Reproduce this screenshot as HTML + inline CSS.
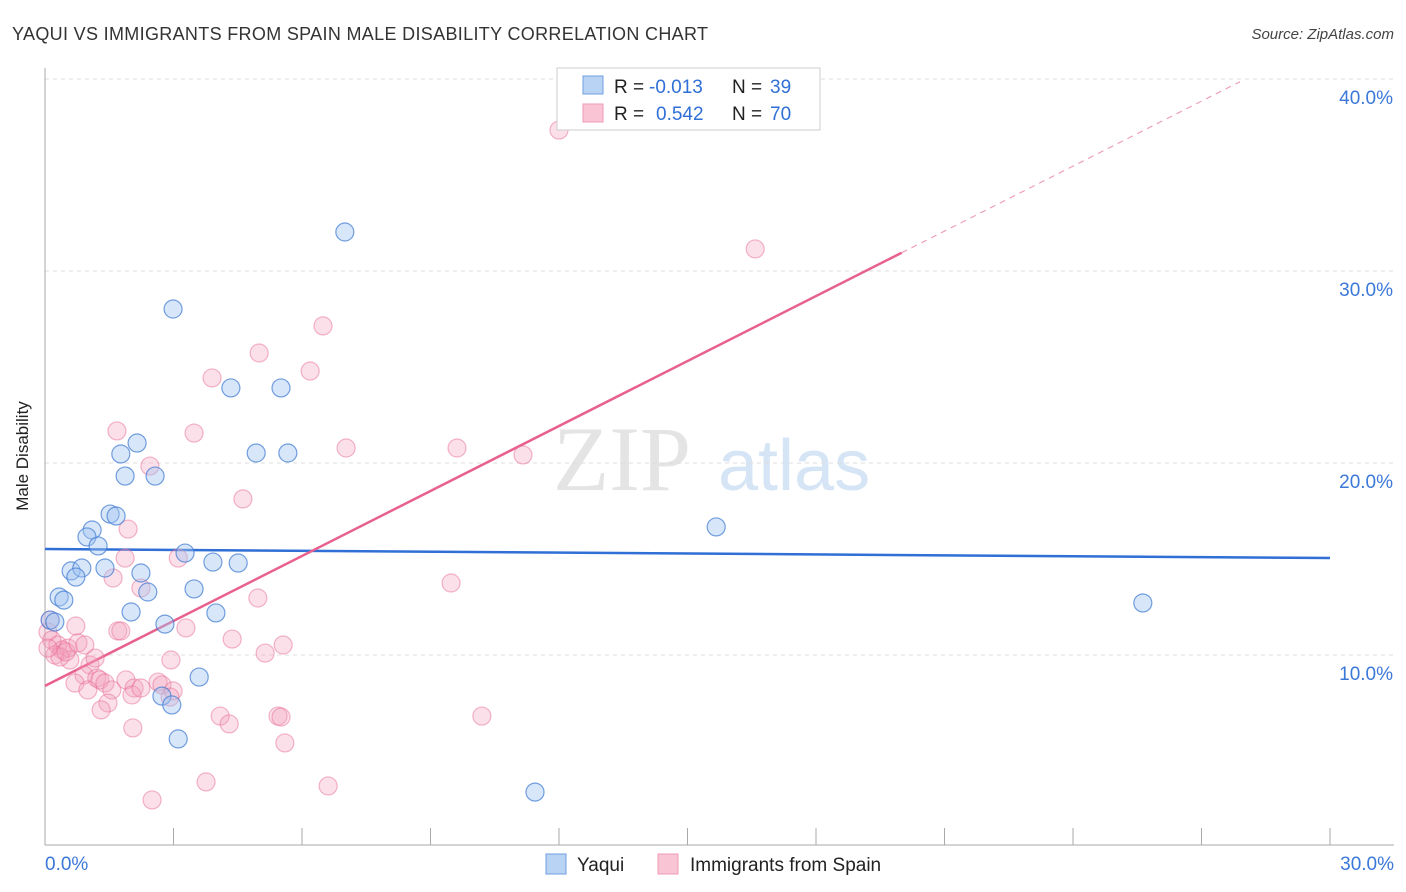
<!DOCTYPE html>
<html><head><meta charset="utf-8"><style>
body{margin:0;background:#fff;font-family:"Liberation Sans",sans-serif}
#wrap{position:relative;width:1406px;height:892px;overflow:hidden}
</style></head><body>
<div id="wrap">
<svg id="svg" width="1406" height="892" xmlns="http://www.w3.org/2000/svg" font-family="Liberation Sans, sans-serif">
<text x="12" y="40" font-size="18" fill="#333" textLength="696">YAQUI VS IMMIGRANTS FROM SPAIN MALE DISABILITY CORRELATION CHART</text>
<text x="1394" y="39" font-size="15" fill="#444" text-anchor="end" font-style="italic">Source: ZipAtlas.com</text>
<text x="28" y="456" font-size="17" fill="#222" text-anchor="middle" transform="rotate(-90 28 456)">Male Disability</text>
<g><text x="553" y="490" font-size="92" font-family="Liberation Serif, serif" fill="#e4e4e4">ZIP</text><text x="718" y="490" font-size="72" fill="#d6e5f5">atlas</text></g>
<g id="grid"></g><g id="axes"></g><g id="trend"></g><g id="pts"></g>
<g>
<rect x="557" y="68" width="263" height="62" fill="#fff" stroke="#ccc"/>
<rect x="583" y="76" width="20" height="18" fill="#b9d3f5" stroke="#6e9fe0"/>
<rect x="583" y="104" width="20" height="18" fill="#f9c5d4" stroke="#ee9ab4"/>
<text x="614" y="93" font-size="19" fill="#222">R =</text>
<text x="649" y="93" font-size="19" fill="#2f6fd6">-0.013</text>
<text x="732" y="93" font-size="19" fill="#222">N =</text>
<text x="770" y="93" font-size="19" fill="#2f6fd6">39</text>
<text x="614" y="120" font-size="19" fill="#222">R =</text>
<text x="656" y="120" font-size="19" fill="#2f6fd6">0.542</text>
<text x="732" y="120" font-size="19" fill="#222">N =</text>
<text x="770" y="120" font-size="19" fill="#2f6fd6">70</text>
</g>
<g>
<rect x="546" y="854" width="20" height="20" fill="#b9d3f5" stroke="#6e9fe0"/>
<text x="577" y="871" font-size="19" fill="#222">Yaqui</text>
<rect x="658" y="854" width="20" height="20" fill="#f9c5d4" stroke="#ee9ab4"/>
<text x="690" y="871" font-size="19" fill="#222">Immigrants from Spain</text>
</g>
</svg></div>
<script>
const yTicks=[10,20,30,40];
const yTickLabels=["10.0%","20.0%","30.0%","40.0%"];
const xTickLabels=["0.0%","30.0%"];
const blueX=[7.00,2.99,4.34,5.51,2.15,1.77,4.93,5.67,1.87,2.57,1.52,1.66,1.10,0.98,1.24,3.27,3.92,4.51,0.61,0.86,1.40,0.72,2.24,2.40,3.48,0.33,0.44,2.01,3.99,2.80,0.12,0.23,3.60,2.73,2.96,3.11,11.44,15.67,25.63];
const blueY=[32.03,28.02,23.91,23.91,21.04,20.47,20.52,20.52,19.32,19.32,17.34,17.24,16.51,16.15,15.68,15.31,14.84,14.79,14.38,14.53,14.53,14.06,14.27,13.28,13.44,13.02,12.86,12.24,12.19,11.61,11.82,11.72,8.85,7.86,7.40,5.63,2.86,16.67,12.71];
const pinkX=[12.00,16.58,6.49,5.00,6.19,3.90,1.68,3.48,7.03,9.62,2.45,11.16,4.62,1.94,1.87,3.11,1.59,9.48,2.24,4.97,3.29,0.72,1.70,1.77,4.37,5.56,5.14,0.12,0.07,0.16,0.30,0.40,0.54,0.23,0.58,1.05,0.91,1.21,0.70,1.28,1.00,1.40,1.56,1.47,1.31,1.89,2.08,2.03,2.24,2.64,2.73,2.99,2.92,2.94,4.09,4.30,5.44,5.51,10.20,2.05,5.60,3.76,2.50,6.61,1.17,0.35,0.49,0.77,0.93,0.07];
const pinkY=[37.34,31.15,27.14,25.73,24.79,24.43,21.67,21.56,20.78,20.78,19.84,20.42,18.13,16.56,15.05,15.05,14.01,13.75,13.49,12.97,11.41,11.51,11.25,11.25,10.83,10.52,10.10,11.82,11.20,10.78,10.52,10.26,10.36,10.00,9.74,9.48,8.96,8.80,8.54,8.70,8.18,8.54,8.18,7.50,7.14,8.70,8.28,7.92,8.28,8.59,8.44,8.13,7.81,9.74,6.82,6.41,6.82,6.77,6.82,6.20,5.42,3.39,2.45,3.18,9.84,9.90,10.16,10.63,10.52,10.36];
const blueTrend=[15.52,15.05];
const pinkTrend=[8.39,1.128];
const NS="http://www.w3.org/2000/svg";
const X=v=>45+v/30*1285, Y=v=>847-v*19.2;
function mk(t,a,p){const e=document.createElementNS(NS,t);for(const k in a)e.setAttribute(k,a[k]);document.getElementById(p).appendChild(e);return e;}
yTicks.forEach((t,i)=>{
 const l=mk('line',{x1:45,x2:1394,y1:Y(t),y2:Y(t),stroke:'#ddd','stroke-dasharray':'4,4'},'grid');
 
 
 const tx=mk('text',{x:1393,y:Y(t)+25,'font-size':19,fill:'#3b78d8','text-anchor':'end'},'grid');tx.textContent=yTickLabels[i];
 
 
});
mk('line',{x1:45,x2:45,y1:68,y2:845,stroke:'#aaa'},'axes');
mk('line',{x1:45,x2:1394,y1:845,y2:845,stroke:'#aaa'},'axes');
for(let i=0;i<=10;i++){const x=X(i*3);mk('line',{x1:x,x2:x,y1:828,y2:845,stroke:'#aaa'},'axes');}
const t0=mk('text',{x:45,y:870,'font-size':19,fill:'#3b78d8'},'axes');t0.textContent=xTickLabels[0];


const t1=mk('text',{x:1394,y:870,'font-size':19,fill:'#3b78d8','text-anchor':'end'},'axes');t1.textContent=xTickLabels[1];


const bl=mk('line',{x1:X(0),y1:Y(blueTrend[0]),x2:X(30),y2:Y(blueTrend[1]),stroke:'#2f6fd6','stroke-width':2.5},'trend');


const pe=20;
const pl=mk('line',{x1:X(0),y1:Y(pinkTrend[0]),x2:X(pe),y2:Y(pinkTrend[0]+pinkTrend[1]*pe),stroke:'#e8608e','stroke-width':2.5},'trend');


const pd=mk('line',{x1:X(pe),y1:Y(pinkTrend[0]+pinkTrend[1]*pe),x2:X(27.9),y2:Y(pinkTrend[0]+pinkTrend[1]*27.9),stroke:'#eea0b8','stroke-width':1.2,'stroke-dasharray':'6,5'},'trend');


pinkX.forEach((v,i)=>{const c=mk('circle',{cx:X(v),cy:Y(pinkY[i]),r:9,fill:'rgba(244,160,186,0.32)',stroke:'rgba(232,110,150,0.5)','stroke-width':1.2},'pts');
 
 });
blueX.forEach((v,i)=>{const c=mk('circle',{cx:X(v),cy:Y(blueY[i]),r:9,fill:'rgba(160,196,240,0.42)',stroke:'rgba(60,120,210,0.7)','stroke-width':1.2},'pts');
 
 });
</script>
</body></html>
